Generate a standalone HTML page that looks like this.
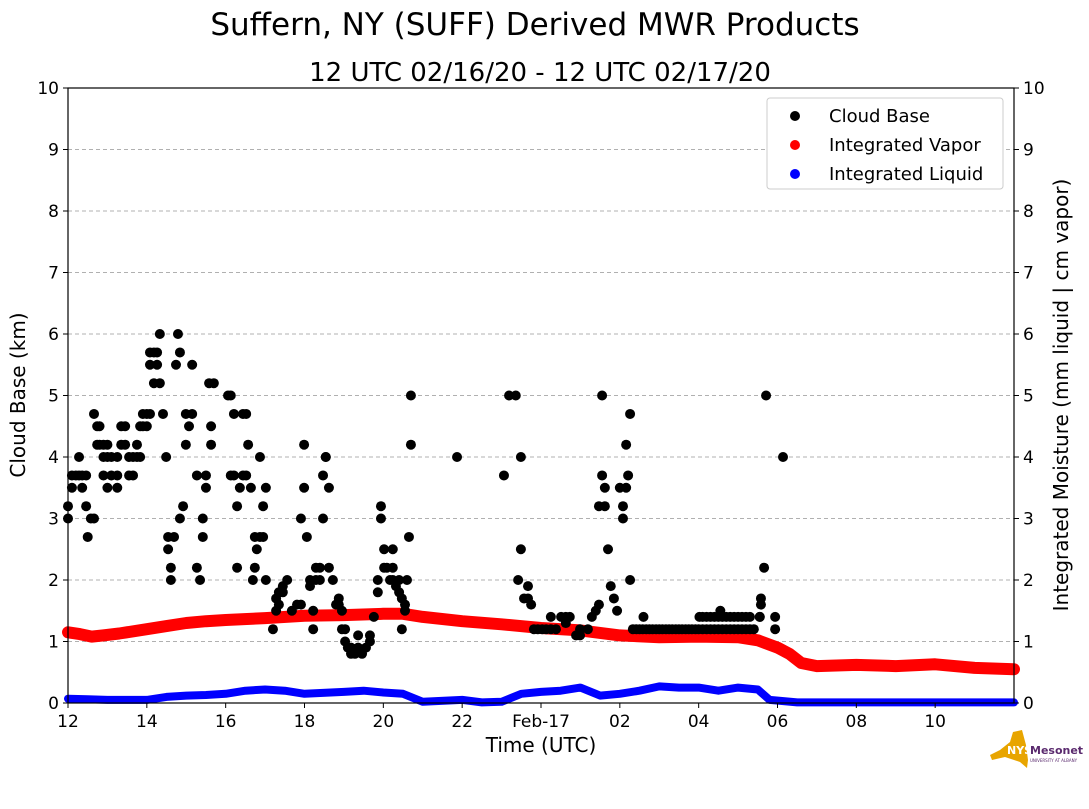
<!DOCTYPE html>
<html><head><meta charset="utf-8"><style>
body{margin:0;background:#fff;}
svg text{font-family:"DejaVu Sans","Liberation Sans",sans-serif;}
</style></head><body>
<svg id="chart" width="1089" height="804" xmlns="http://www.w3.org/2000/svg">
<rect width="1089" height="804" fill="#fff"/>
<text x="535" y="35" font-size="31" text-anchor="middle">Suffern, NY (SUFF) Derived MWR Products</text>
<text x="540" y="81" font-size="26" text-anchor="middle">12 UTC 02/16/20 - 12 UTC 02/17/20</text>
<g id="grid"></g><g id="series"></g><g id="axes"></g>
<text transform="translate(25,395) rotate(-90)" font-size="20" text-anchor="middle">Cloud Base (km)</text>
<text transform="translate(1068,395) rotate(-90)" font-size="20" text-anchor="middle">Integrated Moisture (mm liquid | cm vapor)</text>
<text x="541" y="752" font-size="20" text-anchor="middle">Time (UTC)</text>
<g>
<rect x="767" y="98" width="236" height="91" rx="3" fill="#fff" stroke="#ccc"/>
<circle cx="795" cy="116" r="5" fill="#000"/><text x="829" y="122" font-size="18">Cloud Base</text>
<circle cx="795" cy="145" r="5" fill="red"/><text x="829" y="151" font-size="18">Integrated Vapor</text>
<circle cx="795" cy="174" r="5" fill="blue"/><text x="829" y="180" font-size="18">Integrated Liquid</text>
</g>
<g>
<path d="M990 755 L1000 750 L1010 742 L1013 732 L1022 730 L1026 745 L1028 760 L1027 768 L1020 762 L1005 757 L992 760 Z" fill="#e8a500"/>
<text x="1007" y="754" font-size="11" fill="#fff" font-weight="bold">NYS</text>
<text x="1030" y="754" font-size="11" fill="#5a2a6e" font-weight="bold">Mesonet</text>
<text x="1030" y="762" font-size="4" fill="#5a2a6e">UNIVERSITY AT ALBANY</text>
</g>
</svg>
<script>
const xTicks=[0,2,4,6,8,10,12,14,16,18,20,22];
const xTickLabels=["12","14","16","18","20","22","Feb-17","02","04","06","08","10"];
const yTicks=[0,1,2,3,4,5,6,7,8,9,10];
const cloudHours=[0,0,0.1,0.1,0.2,0.28,0.28,0.36,0.36,0.46,0.46,0.5,0.58,0.66,0.66,0.74,0.74,0.8,0.8,0.9,0.9,0.9,1.0,1.0,1.0,1.1,1.1,1.25,1.25,1.25,1.35,1.35,1.45,1.45,1.55,1.55,1.65,1.65,1.75,1.75,1.83,1.83,1.9,1.9,2.0,2.0,2.08,2.08,2.08,2.18,2.18,2.26,2.26,2.33,2.33,2.41,2.49,2.54,2.54,2.61,2.61,2.69,2.74,2.79,2.84,2.84,2.92,2.99,2.99,3.07,3.15,3.15,3.27,3.27,3.35,3.42,3.42,3.5,3.5,3.58,3.63,3.63,3.7,4.06,4.13,4.13,4.21,4.21,4.29,4.29,4.36,4.44,4.44,4.52,4.52,4.57,4.64,4.69,4.74,4.74,4.79,4.87,4.87,4.95,4.95,5.02,5.02,5.2,5.28,5.28,5.35,5.35,5.45,5.45,5.56,5.68,5.81,5.91,5.91,5.99,5.99,6.06,6.14,6.14,6.22,6.22,6.29,6.29,6.39,6.39,6.47,6.47,6.54,6.54,6.62,6.62,6.72,6.8,6.87,6.87,6.95,6.95,7.03,7.03,7.1,7.18,7.18,7.28,7.36,7.36,7.46,7.56,7.66,7.66,7.76,7.86,7.86,7.94,7.94,8.02,8.02,8.09,8.17,8.24,8.24,8.24,8.32,8.4,8.4,8.47,8.47,8.55,8.55,8.6,8.65,8.7,8.7,9.87,11.06,11.19,11.36,11.42,11.49,11.49,11.57,11.67,11.67,11.75,11.82,11.92,12.03,12.13,12.25,12.25,12.38,12.51,12.63,12.63,12.73,12.89,12.99,12.99,13.19,13.29,13.39,13.47,13.47,13.55,13.55,13.62,13.62,13.7,13.77,13.85,13.93,14.0,14.08,14.08,14.16,14.16,14.21,14.26,14.26,
14.33,14.42,14.5,14.58,14.6,14.67,14.75,14.83,14.92,15.0,15.08,15.17,15.25,15.33,15.42,15.5,15.58,15.67,15.75,15.83,15.92,16.0,
16.02,16.1,16.1,16.2,16.2,16.3,16.3,16.4,16.4,16.5,16.5,16.55,16.6,16.6,16.7,16.7,16.8,16.8,16.9,16.9,17.0,17.0,17.1,17.1,17.2,17.2,17.3,17.3,17.4,
17.55,17.55,17.58,17.58,17.66,17.71,17.94,17.94,18.14];
const cloudKm=[3.2,3.0,3.5,3.7,3.7,4.0,3.7,3.5,3.7,3.2,3.7,2.7,3.0,3.0,4.7,4.2,4.5,4.5,4.2,3.7,4.0,4.2,4.2,4.0,3.5,3.7,4.0,3.5,3.7,4.0,4.2,4.5,4.5,4.2,4.0,3.7,3.7,4.0,4.2,4.0,4.0,4.5,4.7,4.5,4.5,4.7,5.5,4.7,5.7,5.7,5.2,5.5,5.7,6.0,5.2,4.7,4.0,2.7,2.5,2.2,2.0,2.7,5.5,6.0,5.7,3.0,3.2,4.2,4.7,4.5,5.5,4.7,3.7,2.2,2.0,3.0,2.7,3.5,3.7,5.2,4.5,4.2,5.2,5.0,5.0,3.7,4.7,3.7,2.2,3.2,3.5,4.7,3.7,4.7,3.7,4.2,3.5,2.0,2.7,2.2,2.5,4.0,2.7,2.7,3.2,3.5,2.0,1.2,1.5,1.7,1.6,1.8,1.9,1.8,2.0,1.5,1.6,1.6,3.0,3.5,4.2,2.7,2.0,1.9,1.5,1.2,2.2,2.0,2.2,2.0,3.0,3.7,4.0,4.0,3.5,2.2,2.0,1.6,1.7,1.6,1.5,1.2,1.2,1.0,0.9,0.8,0.9,0.8,1.1,0.9,0.8,0.9,1.0,1.1,1.4,1.8,2.0,3.2,3.0,2.5,2.2,2.2,2.0,2.5,2.2,2.0,1.9,2.0,1.8,1.2,1.7,1.6,1.5,2.0,2.7,4.2,5.0,4.0,3.7,5.0,5.0,2.0,4.0,2.5,1.7,1.9,1.7,1.6,1.2,1.2,1.2,1.2,1.4,1.2,1.2,1.4,1.4,1.3,1.4,1.1,1.1,1.2,1.2,1.4,1.5,1.6,3.2,5.0,3.7,3.5,3.2,2.5,1.9,1.7,1.5,3.5,3.2,3.0,4.2,3.5,3.7,4.7,2.0,
1.2,1.2,1.2,1.2,1.4,1.2,1.2,1.2,1.2,1.2,1.2,1.2,1.2,1.2,1.2,1.2,1.2,1.2,1.2,1.2,1.2,1.2,
1.4,1.2,1.4,1.2,1.4,1.2,1.4,1.2,1.4,1.2,1.4,1.5,1.2,1.4,1.2,1.4,1.2,1.4,1.2,1.4,1.2,1.4,1.2,1.4,1.2,1.4,1.2,1.4,1.2,
1.4,1.4,1.6,1.7,2.2,5.0,1.4,1.2,4.0];
const vaporHours=[0,0.3,0.6,0.9,1.3,2,2.5,3,3.5,4,5,6,7,8,8.5,9,10,11,12,13,14,15,16,17,17.5,18,18.3,18.6,19,20,21,22,23,24];
const vaporValues=[1.15,1.12,1.08,1.1,1.13,1.2,1.25,1.3,1.33,1.35,1.38,1.42,1.43,1.45,1.45,1.4,1.33,1.28,1.22,1.18,1.1,1.07,1.08,1.07,1.02,0.9,0.8,0.65,0.6,0.62,0.6,0.63,0.57,0.55];
const liquidHours=[0,0.5,1,2,2.5,3,3.5,4,4.5,5,5.5,6,7,7.5,8,8.5,9,10,10.5,11,11.5,12,12.5,13,13.5,14,14.5,15,15.5,16,16.5,17,17.5,17.8,18.5,19,24];
const liquidValues=[0.07,0.06,0.05,0.05,0.1,0.12,0.13,0.15,0.2,0.22,0.2,0.15,0.18,0.2,0.17,0.15,0.02,0.05,0.01,0.02,0.15,0.18,0.2,0.25,0.12,0.15,0.2,0.27,0.25,0.25,0.2,0.25,0.22,0.05,0.01,0.01,0.01];

const X0=68,X1=1014,Y0=703,Y1=88,NS="http://www.w3.org/2000/svg";
const xs=h=>X0+(X1-X0)*h/24, ys=v=>Y0-(Y0-Y1)*v/10;
function el(t,a,p){const e=document.createElementNS(NS,t);for(const k in a)e.setAttribute(k,a[k]);p.appendChild(e);return e;}
const grid=document.getElementById('grid'),axes=document.getElementById('axes'),ser=document.getElementById('series');
yTicks.forEach(v=>{
 if(v>0&&v<10){const g=el('line',{x1:X0,x2:X1,y1:ys(v),y2:ys(v),stroke:'#b0b0b0','stroke-dasharray':'4,3','stroke-width':1},grid);
 
 }
 el('line',{x1:X0-5,x2:X0,y1:ys(v),y2:ys(v),stroke:'#000'},axes);
 el('line',{x1:X1,x2:X1+5,y1:ys(v),y2:ys(v),stroke:'#000'},axes);
 const t=el('text',{x:X0-9,y:ys(v)+6,'font-size':17,'text-anchor':'end'},axes);t.textContent=v;
 
 
 const t2=el('text',{x:X1+9,y:ys(v)+6,'font-size':17},axes);t2.textContent=v;
 
 
});
xTicks.forEach((h,i)=>{
 el('line',{x1:xs(h),x2:xs(h),y1:Y0,y2:Y0+5,stroke:'#000'},axes);
 const t=el('text',{x:xs(h),y:Y0+24,'font-size':17,'text-anchor':'middle'},axes);t.textContent=xTickLabels[i];
 
 
});
el('rect',{x:X0,y:Y1,width:X1-X0,height:Y0-Y1,fill:'none',stroke:'#000','stroke-width':1.2},axes);
function line(hs,vs,c,w,name){
 const d=hs.map((h,i)=>(i?'L':'M')+xs(h).toFixed(1)+' '+ys(vs[i]).toFixed(1)).join(' ');
 const p=el('path',{d:d,fill:'none',stroke:c,'stroke-width':w,'stroke-linecap':'round','stroke-linejoin':'round'},ser);
 
 
}
line(vaporHours,vaporValues,'red',12,'integrated-vapor-series');
line(liquidHours,liquidValues,'blue',8,'integrated-liquid-series');
cloudHours.forEach((h,i)=>{
 const c=el('circle',{cx:xs(h),cy:ys(cloudKm[i]),r:5,fill:'#000'},ser);
 
 
});
</script>
</body></html>
